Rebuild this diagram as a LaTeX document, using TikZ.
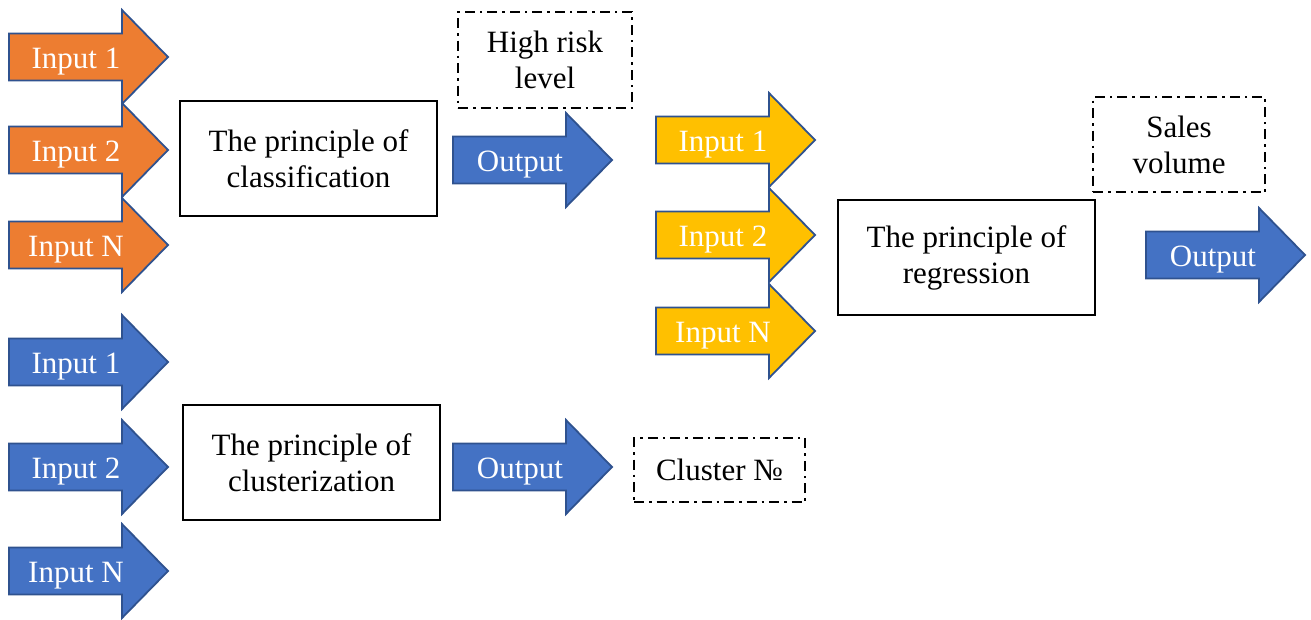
\documentclass[tikz,border=0pt]{standalone}
\usepackage{fontspec}
\setmainfont{Liberation Serif}
\definecolor{aorange}{HTML}{ED7D31}
\definecolor{ablue}{HTML}{4472C4}
\definecolor{ayellow}{HTML}{FFC000}
\definecolor{aedge}{HTML}{2F528F}
\newcommand{\bigarrow}[5]{%
  \draw[arrowbody, fill=#4] (#2,#3) ++(0,-23.5) -- ++(113,0) -- ++(0,-23.5) -- ++(46,47) -- ++(-46,47) -- ++(0,-23.5) -- ++(-113,0) -- cycle;
  \node[arrowtext] (#1) at (#2+67,#3+11) {#5};
}
\begin{document}
\begin{tikzpicture}[x=1pt,y=-1pt,
  font=\fontsize{31}{36}\selectfont,
  arrowbody/.style={draw=aedge, line width=1.8pt, line join=miter},
  arrowtext/.style={text=white, inner sep=0pt, anchor=base},
  principle/.style={draw=black, line width=2pt, fill=white, align=center, inner sep=0pt, minimum width=257pt, minimum height=115pt},
  resultbox/.style={draw=black, line width=2pt, align=center, inner sep=0pt, dash pattern=on 10pt off 5pt on 2.5pt off 5pt}
]
\useasboundingbox (0,0) rectangle (1311,619);
% classification inputs
\bigarrow{ciA}{9}{57}{aorange}{Input 1}
\bigarrow{ciB}{9}{150}{aorange}{Input 2}
\bigarrow{ciN}{9}{245}{aorange}{Input N}
% clusterization inputs
\bigarrow{kiA}{9}{362}{ablue}{Input 1}
\bigarrow{kiB}{9}{467}{ablue}{Input 2}
\bigarrow{kiN}{9}{571}{ablue}{Input N}
% regression inputs
\bigarrow{riA}{656}{140}{ayellow}{Input 1}
\bigarrow{riB}{656}{235}{ayellow}{Input 2}
\bigarrow{riN}{656}{331}{ayellow}{Input N}
% outputs
\bigarrow{coOut}{453}{160}{ablue}{Output}
\bigarrow{koOut}{453}{467}{ablue}{Output}
\bigarrow{roOut}{1146}{255}{ablue}{Output}
% principle boxes
\node[principle] (cls) at (308.5,158.5) {The principle of\\classification};
\node[principle] (clu) at (311.5,462.5) {The principle of\\clusterization};
\node[principle] (reg) at (966.5,257.5) {The principle of\\regression};
% result boxes
\node[resultbox, minimum width=174pt, minimum height=96pt] (risk) at (545,60) {High risk\\level};
\node[resultbox, minimum width=172pt, minimum height=95pt] (sales) at (1179,144.5) {Sales\\volume};
\node[resultbox, minimum width=171pt, minimum height=64pt] (clnum) at (719.5,470) {Cluster №};
\end{tikzpicture}
\end{document}
